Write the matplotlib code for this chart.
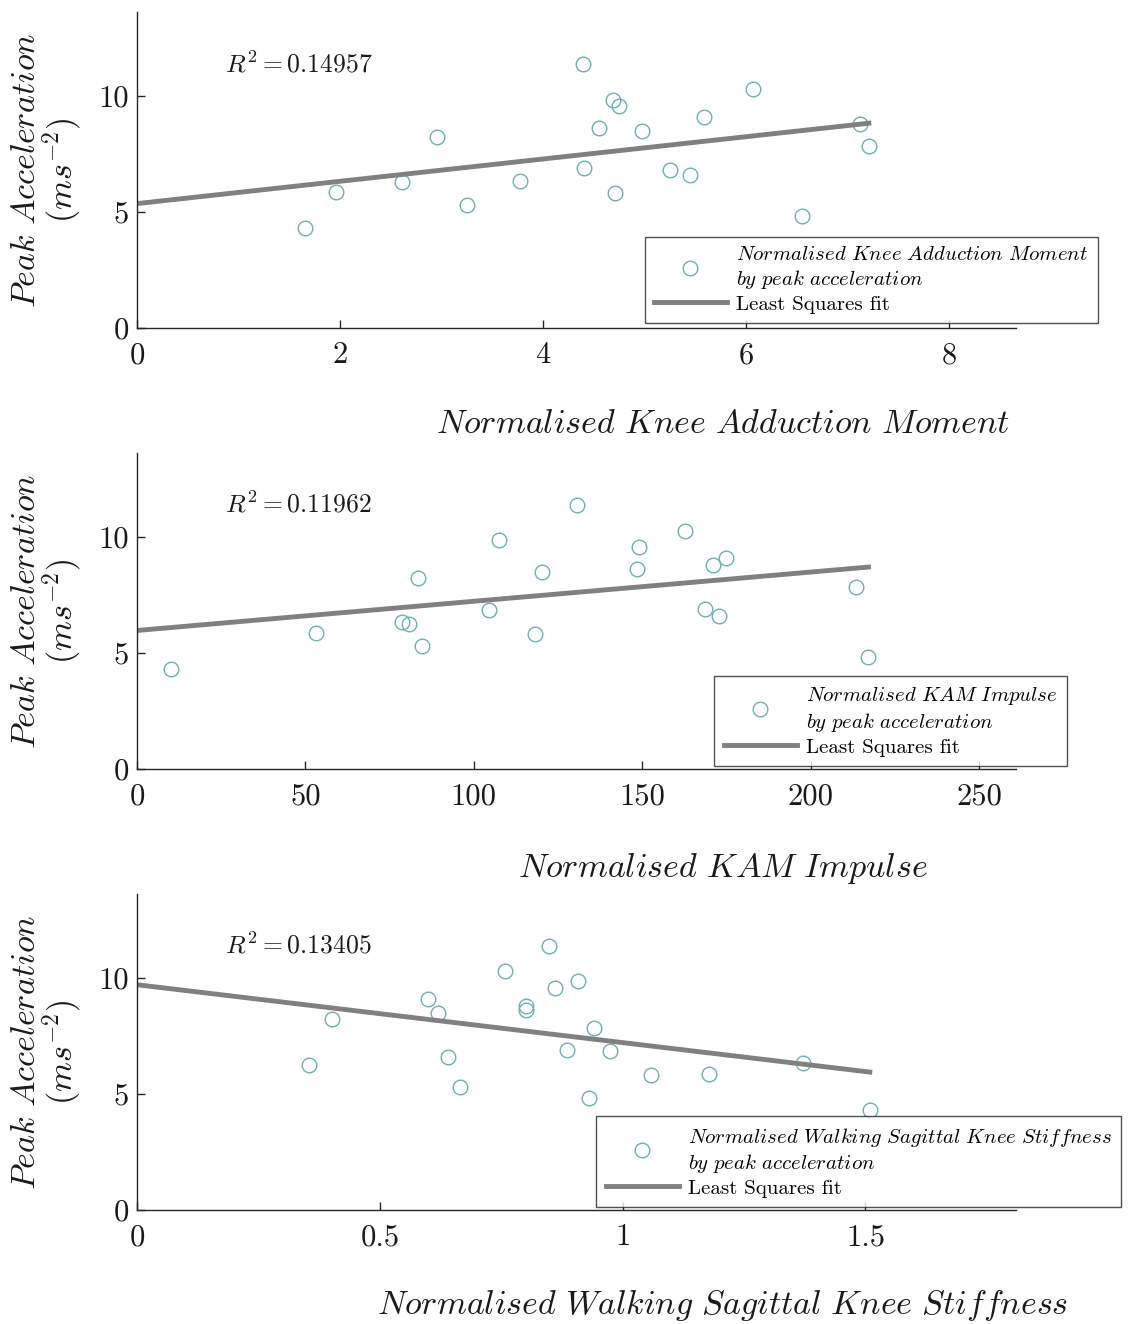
import numpy as np
import matplotlib
matplotlib.use("Agg")
import matplotlib.pyplot as plt

plt.rcParams['font.family'] = ['cmr10', 'DejaVu Serif']
plt.rcParams['mathtext.fontset'] = 'cm'
plt.rcParams['axes.unicode_minus'] = False
plt.rcParams['axes.formatter.use_mathtext'] = True

# peak acceleration (same subjects in every panel)
kam = [1.655, 1.96, 2.61, 2.96, 3.25, 3.77, 4.39, 4.40, 4.55, 4.69,
       4.75, 4.71, 4.98, 5.25, 5.45, 5.59, 6.07, 6.55, 7.12, 7.21]
acc_kam = [4.31, 5.86, 6.29, 8.23, 5.30, 6.34, 11.38, 6.90, 8.62, 9.83,
           9.57, 5.82, 8.49, 6.81, 6.59, 9.09, 10.30, 4.83, 8.79, 7.84]

impulse = [10.1, 53.1, 78.6, 80.7, 83.4, 84.6, 104.5, 107.5, 118.1, 120.2,
           130.6, 148.4, 149.0, 162.6, 168.8, 171.0, 172.8, 174.8, 213.6, 217.2]
acc_imp = [4.31, 5.86, 6.34, 6.25, 8.23, 5.30, 6.85, 9.87, 5.82, 8.49,
           11.38, 8.62, 9.57, 10.26, 6.90, 8.79, 6.59, 9.09, 7.84, 4.83]

stiff = [0.355, 0.402, 0.600, 0.619, 0.641, 0.666, 0.757, 0.800, 0.800, 0.849,
         0.860, 0.885, 0.909, 0.930, 0.942, 0.973, 1.058, 1.177, 1.371, 1.509]
acc_stf = [6.25, 8.23, 9.09, 8.49, 6.59, 5.30, 10.30, 8.62, 8.79, 11.38,
           9.57, 6.90, 9.87, 4.83, 7.84, 6.85, 5.82, 5.86, 6.34, 4.31]

r2_vals = ['0.14957', '0.11962', '0.13405']
xlabels = [r'$Normalised\ Knee\ Adduction\ Moment$',
           r'$Normalised\ KAM\ Impulse$',
           r'$Normalised\ Walking\ Sagittal\ Knee\ Stiffness$']
leg_names = [r'$Normalised\ Knee\ Adduction\ Moment$',
             r'$Normalised\ KAM\ Impulse$',
             r'$Normalised\ Walking\ Sagittal\ Knee\ Stiffness$']
xlims = [8.66, 261, 1.81]
xticks = [[0, 2, 4, 6, 8], [0, 50, 100, 150, 200, 250], [0, 0.5, 1, 1.5]]
xticklabels = [['0', '2', '4', '6', '8'], ['0', '50', '100', '150', '200', '250'],
               ['0', '0.5', '1', '1.5']]
leg_anchor = [(1.093, 0.016), (1.058, 0.009), (1.12, 0.009)]
xlab_y = [-0.26, -0.26, -0.245]

data = [(kam, acc_kam), (impulse, acc_imp), (stiff, acc_stf)]

fig = plt.figure(figsize=(11.38, 13.24), dpi=100)
tops = [0.9909, 0.6579, 0.3248]
h = 0.2386
pt_col = '#6fb0b2'
ax_col = '#262626'

for i in range(3):
    ax = fig.add_axes([0.1204, tops[i] - h, 0.7724, h])
    x = np.array(data[i][0])
    y = np.array(data[i][1])
    ax.plot(x, y, 'o', ls='none', mfc='none', mec=pt_col, ms=10.5, mew=1.0,
            label=leg_names[i] + '\n' + r'$by\ peak\ acceleration$')
    p = np.polyfit(x, y, 1)
    xf = np.array([0, x.max()])
    ax.plot(xf, np.polyval(p, xf), color='#808080', lw=3.5, label='Least Squares fit')

    ax.set_xlim(0, xlims[i])
    ax.set_ylim(0, 13.6)
    ax.set_xticks(xticks[i])
    ax.set_xticklabels(xticklabels[i])
    ax.set_yticks([0, 5, 10])
    ax.set_yticklabels(['0', '5', '10'])
    for s in ['top', 'right']:
        ax.spines[s].set_visible(False)
    for s in ['left', 'bottom']:
        ax.spines[s].set_color(ax_col)
        ax.spines[s].set_linewidth(1.0)
    ax.tick_params(direction='in', length=6, width=1, colors=ax_col,
                   labelsize=22, labelcolor='#1a1a1a')
    ax.tick_params(axis='x', pad=10)
    ax.tick_params(axis='y', pad=6)

    ax.text(0.1, 0.81, r'$R^2 = %s$' % r2_vals[i], transform=ax.transAxes,
            fontsize=18.5, color='#1a1a1a')

    ax.set_xlabel(xlabels[i], fontsize=24.5, color='#1a1a1a')
    ax.xaxis.set_label_coords(0.666, xlab_y[i])
    ax.set_ylabel(r'$Peak\ Acceleration$' + '\n' + r'$(ms^{-2})$',
                  fontsize=24.5, color='#1a1a1a', linespacing=1.0)
    ax.yaxis.set_label_coords(-0.06, 0.5)

    leg = ax.legend(loc='lower right', bbox_to_anchor=leg_anchor[i], fontsize=15,
                    frameon=True, fancybox=False, edgecolor=ax_col,
                    handlelength=3.5, handletextpad=0.45, borderpad=0.45,
                    labelspacing=0.2, borderaxespad=0)
    leg.get_frame().set_linewidth(1.0)

fig.savefig('out.png', dpi=100)
